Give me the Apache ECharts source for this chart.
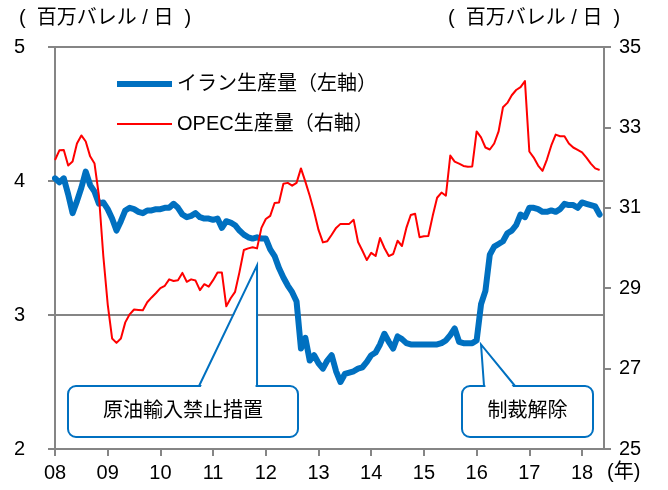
<!DOCTYPE html>
<html>
<head>
<meta charset="utf-8">
<script src="https://cdn.jsdelivr.net/npm/echarts@6/dist/echarts.min.js"></script>
<style>
html,body{margin:0;padding:0;background:#fff;}
#c{width:668px;height:490px;}
</style>
</head>
<body>
<div id="c"></div>
<script>
// ---- data (monthly, 2008-01 .. 2018-05) ----
const startYear = 2008;
const categoryCount = 126; // 2008-01 .. 2018-06 (axis span)
const iranName = 'イラン生産量（左軸）';
const opecName = 'OPEC生産量（右軸）';
const unitText = '(  百万バレル / 日  )';
const yearUnit = '(年)';
const note1 = '原油輸入禁止措置';
const note2 = '制裁解除';
const note1Point = ['2011-11', 3.37];
const note2Point = ['2016-02', 2.78];

// Iran crude production (million b/d), left axis
const iran = [
 4.02, 3.99, 4.02, 3.90, 3.76, 3.85, 3.95, 4.07, 3.97, 3.92, 3.83, 3.84,
 3.79, 3.72, 3.63, 3.70, 3.78, 3.80, 3.79, 3.77, 3.76, 3.78, 3.78, 3.79,
 3.79, 3.80, 3.80, 3.83, 3.80, 3.75, 3.73, 3.74, 3.76, 3.73, 3.72, 3.72,
 3.71, 3.72, 3.65, 3.70, 3.69, 3.67, 3.63, 3.60, 3.58, 3.57, 3.58, 3.57,
 3.57, 3.49, 3.44, 3.35, 3.28, 3.22, 3.17, 3.10, 2.75, 2.83, 2.66, 2.70,
 2.64, 2.60, 2.66, 2.70, 2.58, 2.50, 2.56, 2.57, 2.58, 2.60, 2.61, 2.65,
 2.70, 2.72, 2.78, 2.86, 2.80, 2.75, 2.84, 2.82, 2.79, 2.78, 2.78, 2.78,
 2.78, 2.78, 2.78, 2.78, 2.79, 2.81, 2.85, 2.90, 2.80, 2.79, 2.79, 2.79,
 2.81, 3.08, 3.18, 3.45, 3.51, 3.53, 3.55, 3.61, 3.63, 3.67, 3.75, 3.73,
 3.80, 3.80, 3.79, 3.77, 3.77, 3.78, 3.77, 3.79, 3.83, 3.82, 3.82, 3.80,
 3.84, 3.83, 3.82, 3.81, 3.75
];

// OPEC crude production (million b/d), right axis
const opec = [
 32.19, 32.43, 32.44, 32.05, 32.15, 32.60, 32.80, 32.65, 32.28, 32.10, 31.30, 29.80,
 28.60, 27.75, 27.64, 27.75, 28.15, 28.35, 28.47, 28.46, 28.45, 28.65, 28.77, 28.88,
 29.00, 29.06, 29.22, 29.18, 29.20, 29.38, 29.16, 29.22, 29.19, 28.95, 29.10, 29.04,
 29.20, 29.39, 29.39, 28.55, 28.75, 28.91, 29.40, 29.95, 29.99, 30.02, 29.99, 30.50,
 30.72, 30.80, 31.12, 31.13, 31.60, 31.62, 31.55, 31.62, 31.98, 31.65, 31.30, 30.90,
 30.45, 30.14, 30.17, 30.33, 30.50, 30.60, 30.60, 30.60, 30.70, 30.15, 29.93, 29.70,
 29.88, 29.80, 30.25, 30.00, 29.80, 29.85, 30.18, 30.05, 30.50, 30.82, 30.85, 30.27,
 30.29, 30.30, 30.80, 31.25, 31.38, 31.30, 32.30, 32.15, 32.10, 32.04, 32.02, 32.03,
 32.90, 32.75, 32.50, 32.45, 32.60, 32.90, 33.50, 33.61, 33.80, 33.93, 34.00, 34.15,
 32.40, 32.25, 32.05, 31.92, 32.20, 32.55, 32.82, 32.78, 32.78, 32.60, 32.50, 32.44,
 32.38, 32.25, 32.10, 31.98, 31.94
];

const leftTicks = {min: 2, max: 5, interval: 1};
const rightTicks = {min: 25, max: 35, interval: 2};

// ---- categories ----
const months = [];
for (let k = 0; k < categoryCount; k++) {
  const y = startYear + Math.floor(k / 12);
  const m = (k % 12) + 1;
  months.push(y + '-' + (m < 10 ? '0' + m : m));
}

const FONT = '"Liberation Sans", Arial, "Noto Sans CJK JP", sans-serif';
const GRAY = '#858585';
const BLUE = '#0070C0';
const RED = '#FF0000';

const chart = echarts.init(document.getElementById('c'), null, {renderer: 'canvas'});

const isYearStart = (idx) => idx % 12 === 0;

chart.setOption({
  animation: false,
  backgroundColor: '#fff',
  textStyle: {fontFamily: FONT},
  grid: {left: 55, right: 64, top: 47, bottom: 41, containLabel: false},
  legend: {
    orient: 'vertical',
    left: 117, top: 74, padding: 0,
    itemWidth: 55, itemHeight: 14, itemGap: 20,
    textStyle: {fontSize: 20, color: '#000', fontFamily: FONT},
    data: [
      {name: iranName, icon: 'path://M0,0 L55,0 L55,6 L0,6 Z'},
      {name: opecName, icon: 'path://M0,0 L55,0 L55,2 L0,2 Z'}
    ]
  },
  xAxis: {
    type: 'category',
    data: months,
    boundaryGap: false,
    axisLine: {show: true, lineStyle: {color: GRAY, width: 2}},
    axisTick: {show: true, interval: isYearStart, length: 7, lineStyle: {color: GRAY, width: 2}},
    axisLabel: {
      interval: isYearStart,
      margin: 14,
      fontSize: 20, color: '#000', fontFamily: FONT,
      formatter: (v) => v.slice(2, 4)
    },
    splitLine: {show: false}
  },
  yAxis: [
    {
      type: 'value', position: 'left',
      min: leftTicks.min, max: leftTicks.max, interval: leftTicks.interval,
      axisLine: {show: true, lineStyle: {color: GRAY, width: 2}},
      axisTick: {show: true, length: 7, lineStyle: {color: GRAY, width: 2}},
      axisLabel: {margin: 30, fontSize: 20, color: '#000', fontFamily: FONT},
      splitLine: {show: true, lineStyle: {color: GRAY, width: 2}}
    },
    {
      type: 'value', position: 'right',
      min: rightTicks.min, max: rightTicks.max, interval: rightTicks.interval,
      axisLine: {show: true, lineStyle: {color: GRAY, width: 2}},
      axisTick: {show: true, length: 7, lineStyle: {color: GRAY, width: 2}},
      axisLabel: {margin: 15, fontSize: 20, color: '#000', fontFamily: FONT},
      splitLine: {show: false}
    }
  ],
  series: [
    {
      name: iranName, type: 'line', yAxisIndex: 0, data: iran,
      symbol: 'none', smooth: false,
      lineStyle: {color: BLUE, width: 6, cap: 'round', join: 'round'},
      itemStyle: {color: BLUE}
    },
    {
      name: opecName, type: 'line', yAxisIndex: 1, data: opec,
      symbol: 'none', smooth: false,
      lineStyle: {color: RED, width: 2, join: 'round'},
      itemStyle: {color: RED}
    }
  ]
});

// ---- annotations (callouts anchored to data coordinates) ----
const t1 = chart.convertToPixel({xAxisIndex: 0, yAxisIndex: 0}, note1Point);
const t2 = chart.convertToPixel({xAxisIndex: 0, yAxisIndex: 0}, note2Point);
const boxTop = 386, boxH = 51;

function callout(box, tip, baseA, baseB, label) {
  return [
    {type: 'rect', shape: {x: box.x, y: boxTop, width: box.w, height: boxH, r: 8},
     style: {fill: '#fff', stroke: BLUE, lineWidth: 2}, z: 100},
    {type: 'polygon', shape: {points: [[baseA + 1.5, boxTop + 1.5], tip, [baseB - 1.5, boxTop + 1.5]]},
     style: {fill: '#fff', stroke: null}, z: 101},
    {type: 'polyline', shape: {points: [[baseA, boxTop], tip, [baseB, boxTop]]},
     style: {fill: null, stroke: BLUE, lineWidth: 2}, z: 102},
    {type: 'text', x: box.x + box.w / 2, y: boxTop + boxH / 2,
     style: {text: label, fill: '#000', font: '20px ' + FONT,
             align: 'center', verticalAlign: 'middle', textAlign: 'center', textVerticalAlign: 'middle'}, z: 103}
  ];
}

function label(x, y, text) {
  return {type: 'text', x: x, y: y,
    style: {text: text, fill: '#000', font: '20px ' + FONT, align: 'left', verticalAlign: 'middle', textAlign: 'left', textVerticalAlign: 'middle'}};
}

const graphics = []
  .concat(callout({x: 68, w: 230}, t1, t1[0] - 58, t1[0], note1))
  .concat(callout({x: 462, w: 131}, t2, t2[0] + 3, t2[0] + 34, note2))
  .concat([
    label(19, 18, unitText),
    label(448, 18, unitText),
    label(607, 472, yearUnit)
  ]);

chart.setOption({graphic: graphics});
</script>
</body>
</html>
